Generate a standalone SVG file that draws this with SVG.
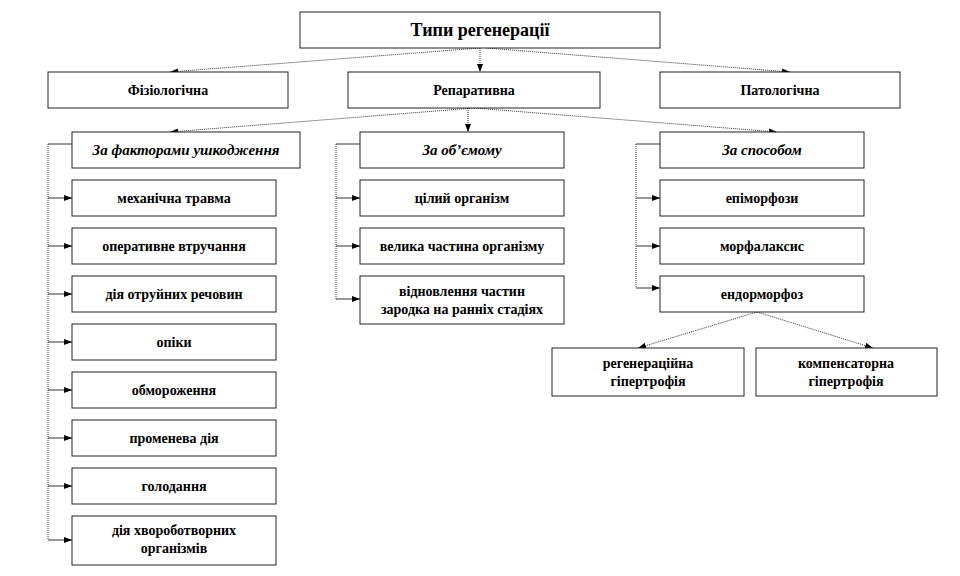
<svg xmlns="http://www.w3.org/2000/svg" width="960" height="576" viewBox="0 0 960 576">
<defs>
<marker id="ah" markerWidth="8" markerHeight="6" refX="8" refY="3" orient="auto" markerUnits="userSpaceOnUse">
<path d="M0,0 L8,3 L0,6 Z" fill="#000"/>
</marker>
<style>
.box{fill:#fff;stroke:#222;stroke-width:1}
.c{fill:none;stroke:#333;stroke-width:1}
.d{stroke-dasharray:1 1}
.a{marker-end:url(#ah)}
</style>
</defs>
<rect width="960" height="576" fill="#fff"/>
<g id="connectors">
<line class="c d a" x1="480" y1="48" x2="170" y2="72"/>
<line class="c d a" x1="480" y1="48" x2="480" y2="72"/>
<line class="c d a" x1="486" y1="48" x2="790" y2="72"/>
<line class="c d a" x1="474" y1="108" x2="170" y2="132"/>
<line class="c d a" x1="468" y1="108" x2="468" y2="132"/>
<line class="c d a" x1="474" y1="108" x2="777" y2="132"/>
<polyline class="c" points="72,144 48,144"/>
<line class="c d" x1="48" y1="144" x2="48" y2="540"/>
<line class="c a" x1="48" y1="198" x2="72" y2="198"/>
<line class="c a" x1="48" y1="246" x2="72" y2="246"/>
<line class="c a" x1="48" y1="294" x2="72" y2="294"/>
<line class="c a" x1="48" y1="342" x2="72" y2="342"/>
<line class="c a" x1="48" y1="390" x2="72" y2="390"/>
<line class="c a" x1="48" y1="438" x2="72" y2="438"/>
<line class="c a" x1="48" y1="486" x2="72" y2="486"/>
<line class="c a" x1="48" y1="540" x2="72" y2="540"/>
<polyline class="c" points="360,144 336,144"/>
<line class="c d" x1="336" y1="144" x2="336" y2="299"/>
<line class="c a" x1="336" y1="198" x2="360" y2="198"/>
<line class="c a" x1="336" y1="246" x2="360" y2="246"/>
<line class="c a" x1="336" y1="299" x2="360" y2="299"/>
<polyline class="c" points="660,144 636,144"/>
<line class="c d" x1="636" y1="144" x2="636" y2="288"/>
<line class="c a" x1="636" y1="198" x2="660" y2="198"/>
<line class="c a" x1="636" y1="246" x2="660" y2="246"/>
<line class="c a" x1="636" y1="288" x2="660" y2="288"/>
<line class="c d a" x1="757" y1="312" x2="638" y2="348"/>
<line class="c d a" x1="757" y1="312" x2="873" y2="348"/>
</g>
<g font-family="Liberation Serif, Times New Roman, serif" font-weight="bold" font-size="14" text-anchor="middle" fill="#000">
<g id="n-title"><rect class="box" x="300" y="12" width="360" height="36"/><text font-size="18" x="480" y="36">Типи регенерації</text></g>
<g id="n-fiz"><rect class="box" x="48" y="72" width="240" height="36"/><text x="168" y="95">Фізіологічна</text></g>
<g id="n-rep"><rect class="box" x="348" y="72" width="252" height="36"/><text x="474" y="95">Репаративна</text></g>
<g id="n-pat"><rect class="box" x="660" y="72" width="240" height="36"/><text x="780" y="95">Патологічна</text></g>
<g id="n-fact"><rect class="box" x="72" y="132" width="228" height="36"/><text font-style="italic" font-size="15" x="186" y="155">За  факторами ушкодження</text></g>
<g id="n-vol"><rect class="box" x="360" y="132" width="204" height="36"/><text font-style="italic" font-size="15" x="462" y="155">За  об’ємому</text></g>
<g id="n-way"><rect class="box" x="660" y="132" width="204" height="36"/><text font-style="italic" font-size="15" x="762" y="155">За  способом</text></g>
<g id="n-f1"><rect class="box" x="72" y="180" width="204" height="36"/><text x="174" y="203">механічна  травма</text></g>
<g id="n-f2"><rect class="box" x="72" y="228" width="204" height="36"/><text x="174" y="251">оперативне втручання</text></g>
<g id="n-f3"><rect class="box" x="72" y="276" width="204" height="36"/><text x="174" y="299">дія  отруйних речовин</text></g>
<g id="n-f4"><rect class="box" x="72" y="324" width="204" height="36"/><text x="174" y="347">опіки</text></g>
<g id="n-f5"><rect class="box" x="72" y="372" width="204" height="36"/><text x="174" y="395">обмороження</text></g>
<g id="n-f6"><rect class="box" x="72" y="420" width="204" height="36"/><text x="174" y="443">променева дія</text></g>
<g id="n-f7"><rect class="box" x="72" y="468" width="204" height="36"/><text x="174" y="491">голодання</text></g>
<g id="n-f8"><rect class="box" x="72" y="516" width="204" height="49"/><text x="174" y="535">дія  хвороботворних</text><text x="174" y="553">організмів</text></g>
<g id="n-v1"><rect class="box" x="360" y="180" width="204" height="36"/><text x="462" y="203">цілий організм</text></g>
<g id="n-v2"><rect class="box" x="360" y="228" width="204" height="36"/><text x="462" y="251">велика частина організму</text></g>
<g id="n-v3"><rect class="box" x="360" y="276" width="204" height="48"/><text x="462" y="296">відновлення частин</text><text x="462" y="314">зародка на ранніх  стадіях</text></g>
<g id="n-w1"><rect class="box" x="660" y="180" width="204" height="36"/><text x="762" y="203">епіморфози</text></g>
<g id="n-w2"><rect class="box" x="660" y="228" width="204" height="36"/><text x="762" y="251">морфалаксис</text></g>
<g id="n-w3"><rect class="box" x="660" y="276" width="204" height="36"/><text x="762" y="299">ендорморфоз</text></g>
<g id="n-h1"><rect class="box" x="552" y="348" width="192" height="48"/><text x="648" y="368">регенераційна</text><text x="648" y="386">гіпертрофія</text></g>
<g id="n-h2"><rect class="box" x="756" y="348" width="181" height="48"/><text x="846" y="368">компенсаторна</text><text x="846" y="386">гіпертрофія</text></g>
</g>
</svg>
